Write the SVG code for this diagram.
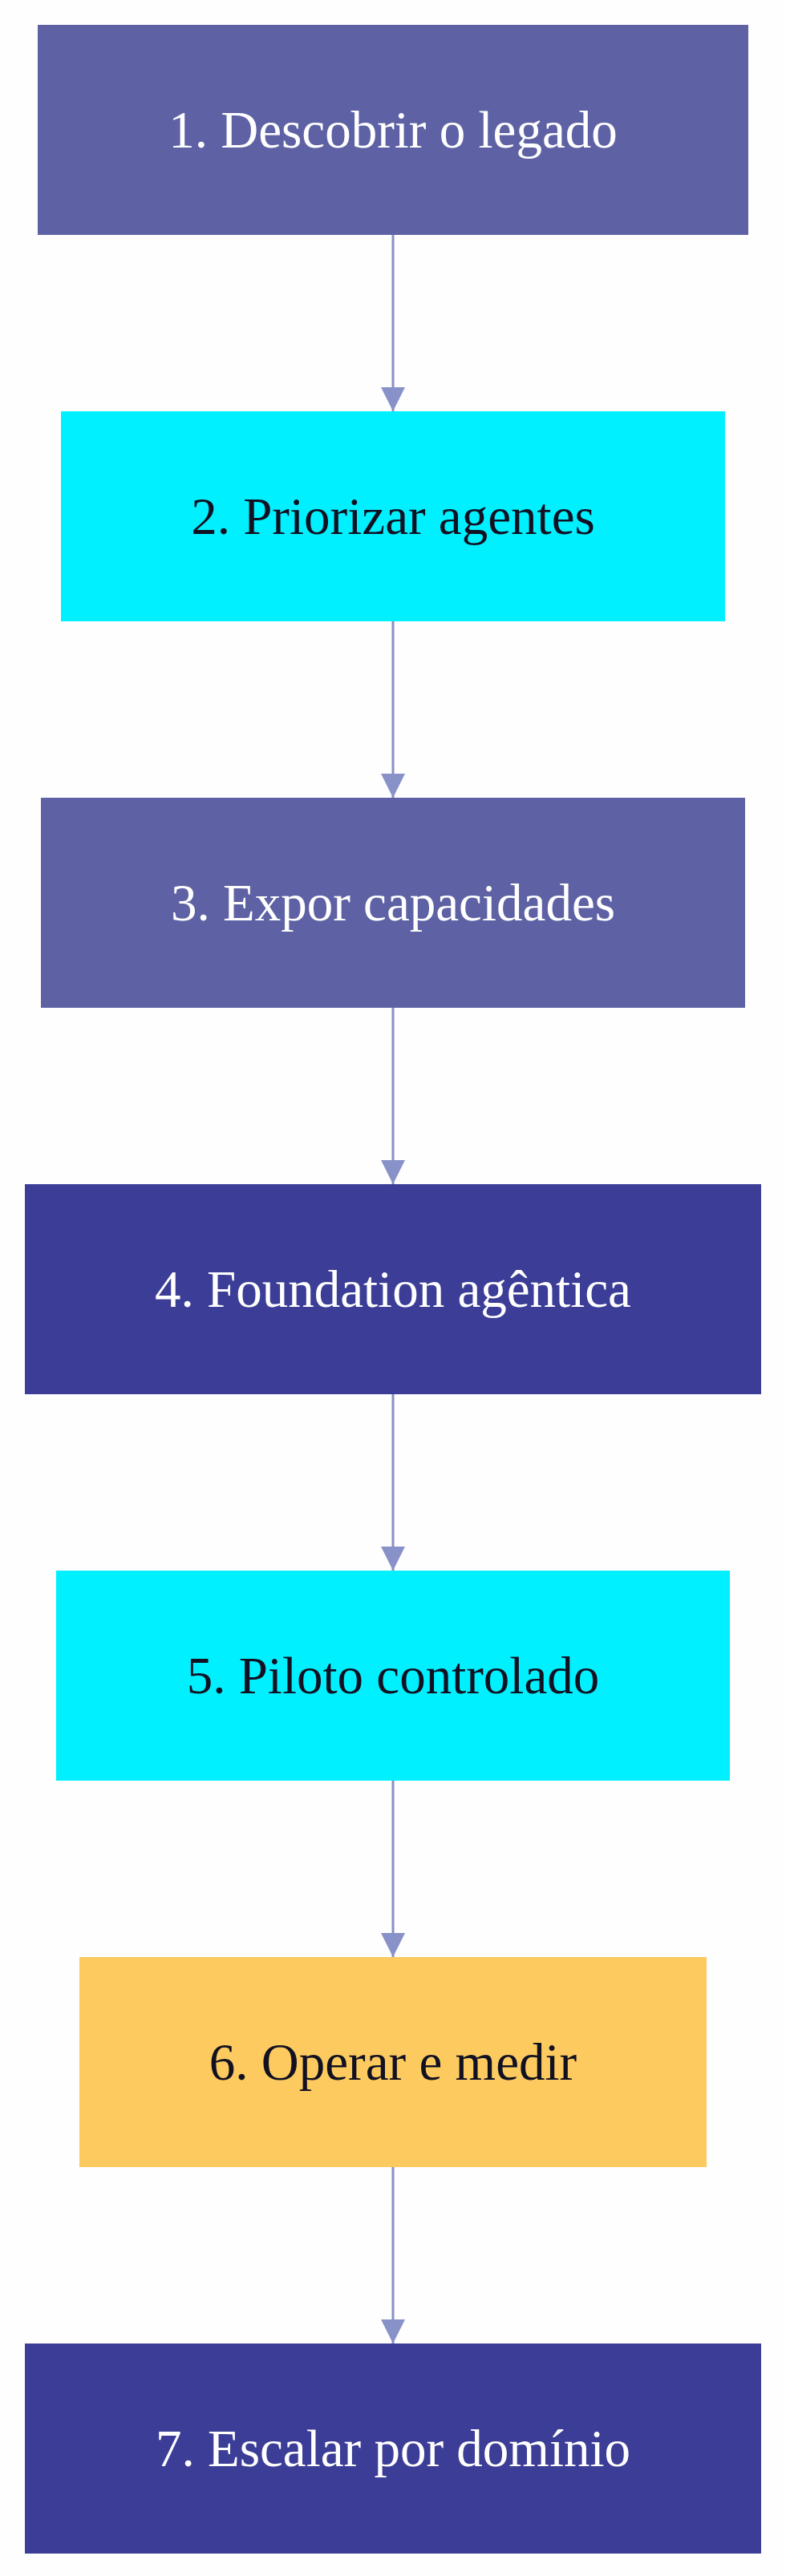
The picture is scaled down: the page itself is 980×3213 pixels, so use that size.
<svg xmlns="http://www.w3.org/2000/svg" width="980" height="3213" viewBox="0 0 980 3213">
<style>
text{font-family:"Liberation Serif",serif;font-size:65px;text-anchor:middle;dominant-baseline:central}
.l{fill:#ffffff}.d{fill:#111122}
.e{stroke:#8891c8;stroke-width:3;fill:none}
</style>
<defs><marker id="b" viewBox="0 0 10 10" refX="10" refY="5" markerWidth="32" markerHeight="30" orient="auto" markerUnits="userSpaceOnUse"><path d="M0,0 L10,5 L0,10 z" fill="#8891c8"/></marker></defs>
<rect width="980" height="3213" fill="#fefefe"/>
<g id="edges">
<line class="e" x1="490" y1="293" x2="490" y2="513" marker-end="url(#b)"/>
<line class="e" x1="490" y1="775" x2="490" y2="995" marker-end="url(#b)"/>
<line class="e" x1="490" y1="1257" x2="490" y2="1477" marker-end="url(#b)"/>
<line class="e" x1="490" y1="1739" x2="490" y2="1959" marker-end="url(#b)"/>
<line class="e" x1="490" y1="2221" x2="490" y2="2441" marker-end="url(#b)"/>
<line class="e" x1="490" y1="2703" x2="490" y2="2923" marker-end="url(#b)"/>
</g>
<g id="n1"><rect x="47" y="31" width="886" height="262" fill="#5e62a4"/><text class="l" x="490" y="162">1. Descobrir o legado</text></g>
<g id="n2"><rect x="76" y="513" width="828" height="262" fill="#00f0ff"/><text class="d" x="490" y="644">2. Priorizar agentes</text></g>
<g id="n3"><rect x="51" y="995" width="878" height="262" fill="#5e62a4"/><text class="l" x="490" y="1126">3. Expor capacidades</text></g>
<g id="n4"><rect x="31" y="1477" width="918" height="262" fill="#3b3d96"/><text class="l" x="490" y="1608">4. Foundation agêntica</text></g>
<g id="n5"><rect x="70" y="1959" width="840" height="262" fill="#00f0ff"/><text class="d" x="490" y="2090">5. Piloto controlado</text></g>
<g id="n6"><rect x="99" y="2441" width="782" height="262" fill="#fcca5e"/><text class="d" x="490" y="2572">6. Operar e medir</text></g>
<g id="n7"><rect x="31" y="2923" width="918" height="262" fill="#3b3d96"/><text class="l" x="490" y="3054">7. Escalar por domínio</text></g>
</svg>
